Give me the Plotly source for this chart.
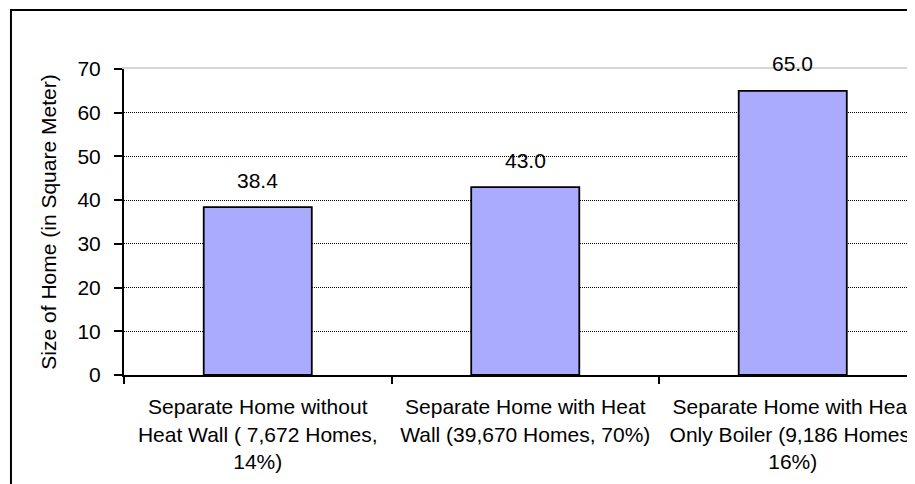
import plotly.graph_objects as go

categories = [
    "Separate Home without<br>Heat Wall ( 7,672 Homes,<br>14%)",
    "Separate Home with Heat<br>Wall (39,670 Homes, 70%)",
    "Separate Home with Heat<br>Only Boiler (9,186 Homes,<br>16%)",
]
values = [38.4, 43.0, 65.0]
y_ticks = [0, 10, 20, 30, 40, 50, 60, 70]
y_title = "Size of Home (in Square Meter)"

FONT = "Liberation Sans, Arial, sans-serif"

fig = go.Figure()
fig.add_trace(go.Bar(
    x=categories, y=values,
    marker=dict(color="#AAAAFF", line=dict(color="black", width=1.8)),
    width=0.404,
    hoverinfo="skip",
))
# invisible helper trace so the top (light grey) frame line of the plot area is drawn
fig.add_trace(go.Scatter(
    x=categories, y=values, xaxis="x2", mode="markers",
    marker=dict(opacity=0), hoverinfo="skip",
))

for c, v in zip(categories, values):
    fig.add_annotation(x=c, y=v, text=f"{v:.1f}", showarrow=False,
                       yanchor="middle", yshift=27,
                       font=dict(family=FONT, size=21, color="black"))

# page body has an 8px default margin: figure is sized/offset to compensate
fig.update_layout(
    width=907, height=476,
    margin=dict(l=116, r=0, t=61, b=109, autoexpand=False),
    paper_bgcolor="white", plot_bgcolor="white",
    showlegend=False,
    font=dict(family=FONT, size=21, color="black"),
    xaxis=dict(
        type="category",
        range=[-0.5, 2.457], automargin=False,
        showline=True, linecolor="black", linewidth=2,
        ticks="outside", ticklen=7, tickwidth=1.5, tickcolor="black",
        tickson="boundaries",
        showgrid=False, zeroline=False,
        tickfont=dict(family=FONT, size=21),
        ticklabelstandoff=12, ticklabeloverflow="allow",
    ),
    xaxis2=dict(
        type="category",
        overlaying="x", side="top", range=[-0.5, 2.457],
        showline=True, linecolor="#d6d6d6", linewidth=2,
        showticklabels=False, ticks="", showgrid=False, zeroline=False,
        automargin=False,
    ),
    yaxis=dict(
        range=[0, 70], tickvals=y_ticks, automargin=False,
        showline=True, linecolor="black", linewidth=2,
        ticks="outside", ticklen=8, tickwidth=1.5, tickcolor="black",
        showgrid=True, gridcolor="black", gridwidth=1, griddash="1px,1px",
        zeroline=False,
        tickfont=dict(family=FONT, size=21),
        ticklabelstandoff=9,
        title=dict(text=y_title, font=dict(family=FONT, size=21), standoff=15),
    ),
    shapes=[
        dict(type="rect", xref="paper", yref="paper",
             x0=-0.1429, x1=1.3, y0=-0.6, y1=1.1928,
             line=dict(color="black", width=2), layer="above"),
    ],
)

fig.write_html("out.html")
